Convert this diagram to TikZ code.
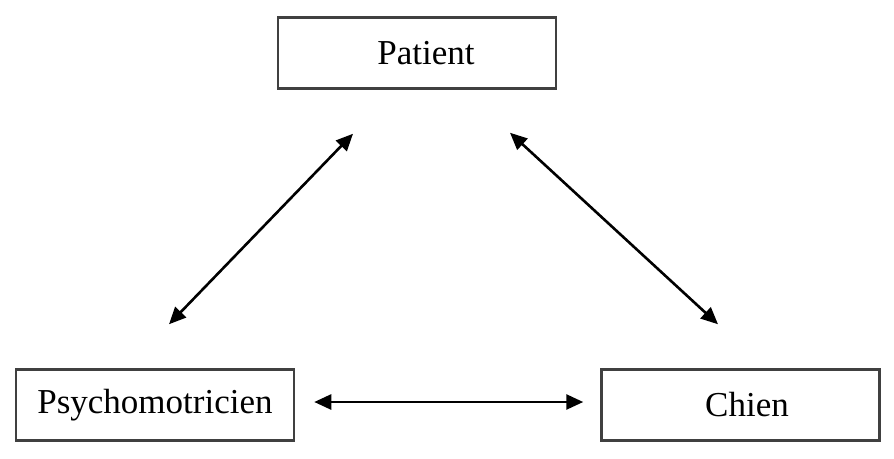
\documentclass[tikz,border=0pt]{standalone}
\usepackage{fontspec}
\setmainfont{Liberation Serif}
\usetikzlibrary{arrows.meta,positioning}

\begin{document}
\begin{tikzpicture}[x=1pt,y=-1pt,
  box/.style={rectangle,draw=black!75,line width=2.5pt,minimum width=278pt,minimum height=71pt,inner sep=0pt,font=\fontsize{35}{42}\selectfont},
  link/.style={{Triangle[length=17pt,width=15pt]}-{Triangle[length=17pt,width=15pt]},line width=2.6pt,black}]
\useasboundingbox (0,0) rectangle (894,458);
% \draw[help lines] (0,0) grid[step=50] (894,458);
\node (patient) [box] at (417,53) {\hspace{18pt}Patient};
\node (psycho) [box] at (155,405) {Psychomotricien\hspace{10pt}};
\node (chien) [box] at (740.5,405) {\hspace{13pt}Chien};
%
\path[link]([shift={(-64,44)}]patient.south) edge ([shift={(14,-44)}]psycho.north);
\path[link]([shift={(93,43)}]patient.south) edge ([shift={(-22.5,-44)}]chien.north);
\path[link]([shift={(19,-3)}]psycho.east) edge ([shift={(-17,-3)}]chien.west);
\end{tikzpicture}
\end{document}
